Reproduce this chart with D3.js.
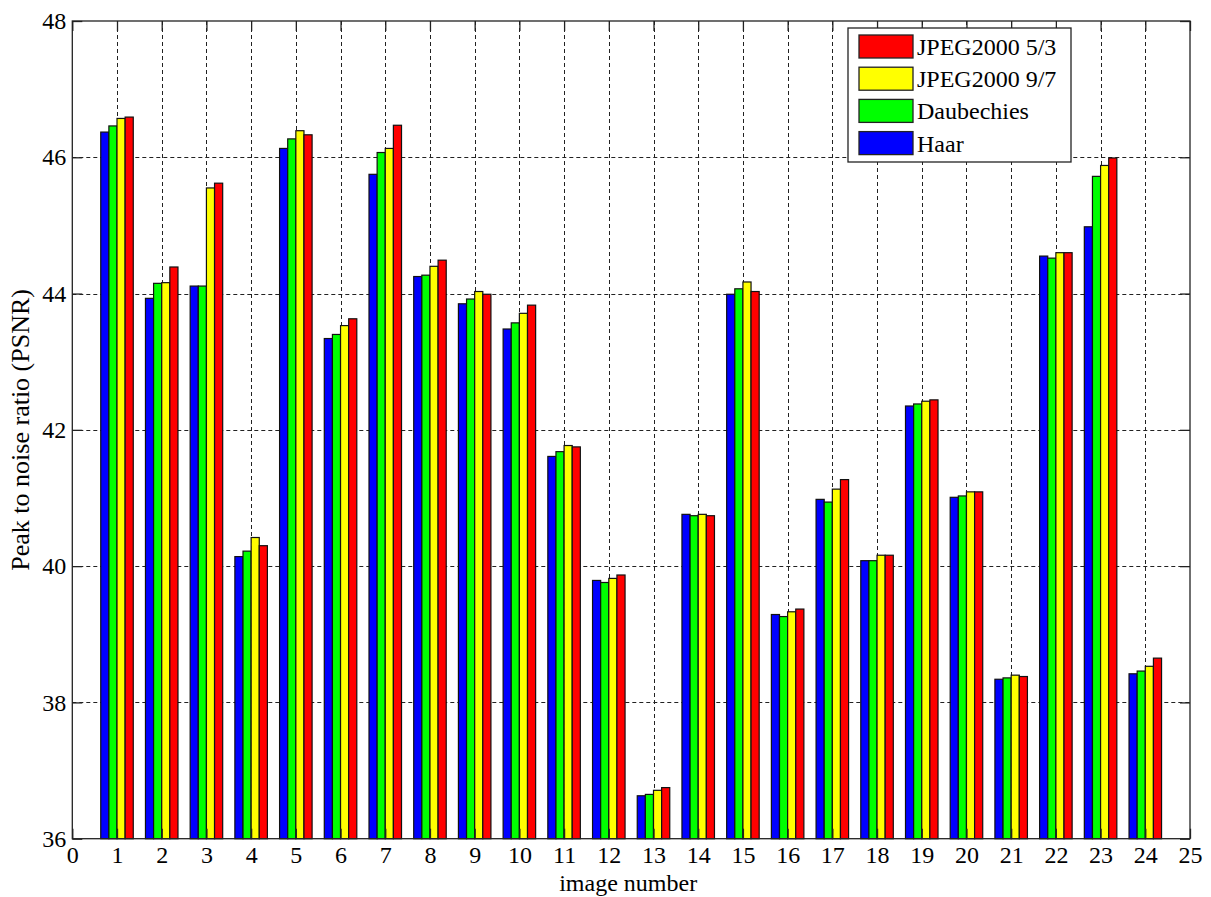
<!DOCTYPE html>
<html>
<head>
<meta charset="utf-8">
<script src="https://cdn.jsdelivr.net/npm/d3@7"></script>
<style>
  html, body { margin: 0; padding: 0; background: #fff; }
  svg { display: block; }
  text { font-family: "Liberation Serif", "Times New Roman", serif; fill: #000; }
</style>
</head>
<body>
<script>
// ---------------- data ----------------
const categories = [1,2,3,4,5,6,7,8,9,10,11,12,13,14,15,16,17,18,19,20,21,22,23,24];
const haar       = [46.37,43.93,44.11,40.14,46.13,43.34,45.75,44.25,43.85,43.48,41.61,39.79,36.63,40.76,43.99,39.29,40.98,40.08,42.35,41.01,38.34,44.55,44.98,38.42];
const daubechies = [46.46,44.15,44.11,40.22,46.27,43.40,46.07,44.27,43.92,43.57,41.68,39.76,36.65,40.74,44.07,39.26,40.94,40.08,42.38,41.03,38.36,44.52,45.72,38.46];
const jpeg97     = [46.57,44.16,45.55,40.42,46.39,43.53,46.13,44.40,44.03,43.71,41.77,39.82,36.71,40.76,44.17,39.33,41.13,40.16,42.42,41.09,38.40,44.60,45.88,38.53];
const jpeg53     = [46.59,44.39,45.62,40.30,46.33,43.63,46.47,44.49,43.99,43.83,41.75,39.87,36.75,40.74,44.03,39.37,41.27,40.16,42.44,41.09,38.38,44.60,45.99,38.65];
const seriesNames  = ["Haar", "Daubechies", "JPEG2000 9/7", "JPEG2000 5/3"];
const seriesColors = ["#0000ff", "#00ff00", "#ffff00", "#ff0000"];
const xTicks = [0,1,2,3,4,5,6,7,8,9,10,11,12,13,14,15,16,17,18,19,20,21,22,23,24,25];
const yTicks = [36,38,40,42,44,46,48];
const xLabel = "image number";
const yLabel = "Peak to noise ratio (PSNR)";

const seriesValues = [haar, daubechies, jpeg97, jpeg53];

// ---------------- layout ----------------
const W = 1211, H = 897;
const L = 72.3, R = 1190, T = 21, B = 838.7;
const FONT = "'Liberation Serif', 'Times New Roman', serif";

const svg = d3.select("body").append("svg").attr("width", W).attr("height", H);

const x = d3.scaleLinear().domain([0, 25]).range([L, R]);
const y = d3.scaleLinear().domain([36, 48]).range([B, T]);

// grid
const grid = svg.append("g").attr("stroke", "#222").attr("stroke-width", 1)
  .attr("stroke-dasharray", "4,3");
grid.selectAll("line.v").data(xTicks.slice(1, -1)).enter().append("line")
  .attr("x1", d => Math.round(x(d)) + 0.5).attr("x2", d => Math.round(x(d)) + 0.5)
  .attr("y1", T).attr("y2", B);
grid.selectAll("line.h").data(yTicks.slice(1, -1)).enter().append("line")
  .attr("y1", d => Math.round(y(d)) + 0.5).attr("y2", d => Math.round(y(d)) + 0.5)
  .attr("x1", L).attr("x2", R);

// bars
const groupWidth = 4 / 5.5;
const bw = groupWidth / 4;
const barsG = svg.append("g");
seriesValues.forEach((vals, si) => {
  barsG.append("g").selectAll("rect").data(categories).enter().append("rect")
    .attr("x", (c) => x(c - groupWidth / 2 + si * bw))
    .attr("width", x(bw) - x(0))
    .attr("y", (c, i) => y(vals[i]))
    .attr("height", (c, i) => y(36) - y(vals[i]))
    .attr("fill", seriesColors[si])
    .attr("stroke", "#111")
    .attr("stroke-width", 1.2);
});

// axes (box with inward ticks)
const axB = d3.axisBottom(x).tickValues(xTicks).tickSize(-10).tickPadding(7).tickFormat(d3.format("d"));
const axT = d3.axisTop(x).tickValues(xTicks).tickSize(-10).tickFormat("");
const axL = d3.axisLeft(y).tickValues(yTicks).tickSize(-10).tickPadding(6).tickFormat(d3.format("d"));
const axR = d3.axisRight(y).tickValues(yTicks).tickSize(-10).tickFormat("");

function styleAxis(g) {
  g.selectAll(".tick line").attr("stroke", "#222").attr("stroke-width", 1.3);
  g.selectAll(".tick text").attr("font-family", FONT)
    .attr("font-size", 24).attr("fill", "#000");
}
svg.append("g").attr("transform", `translate(0,${B})`).call(axB).call(styleAxis);
svg.append("g").attr("transform", `translate(0,${T})`).call(axT).call(styleAxis);
svg.append("g").attr("transform", `translate(${L},0)`).call(axL).call(styleAxis);
svg.append("g").attr("transform", `translate(${R},0)`).call(axR).call(styleAxis);
svg.selectAll(".domain").remove();
svg.append("rect").attr("x", L).attr("y", T).attr("width", R - L).attr("height", B - T)
  .attr("fill", "none").attr("stroke", "#222").attr("stroke-width", 1.3);

// axis labels
svg.append("text").attr("x", (L + R) / 2 - 3).attr("y", 891).attr("text-anchor", "middle")
  .attr("font-family", FONT).attr("font-size", 24).text(xLabel);
svg.append("text").attr("transform", `translate(29,${(T + B) / 2}) rotate(-90)`)
  .attr("text-anchor", "middle").attr("font-family", FONT).attr("font-size", 26).text(yLabel);

// legend
const legX = 848, legY = 28, legW = 223, legH = 134;
const leg = svg.append("g");
leg.append("rect").attr("x", legX).attr("y", legY).attr("width", legW).attr("height", legH)
  .attr("fill", "#fff").attr("stroke", "#222").attr("stroke-width", 1.3);
const legOrder = [3, 2, 1, 0];
legOrder.forEach((si, k) => {
  const ry = 35 + k * 32.2;
  leg.append("rect").attr("x", 859).attr("y", ry).attr("width", 54).attr("height", 23)
    .attr("fill", seriesColors[si]).attr("stroke", "#222").attr("stroke-width", 1.3);
  leg.append("text").attr("x", 917).attr("y", ry + 20).attr("font-family", FONT)
    .attr("font-size", 24).text(seriesNames[si]);
});
</script>
</body>
</html>
